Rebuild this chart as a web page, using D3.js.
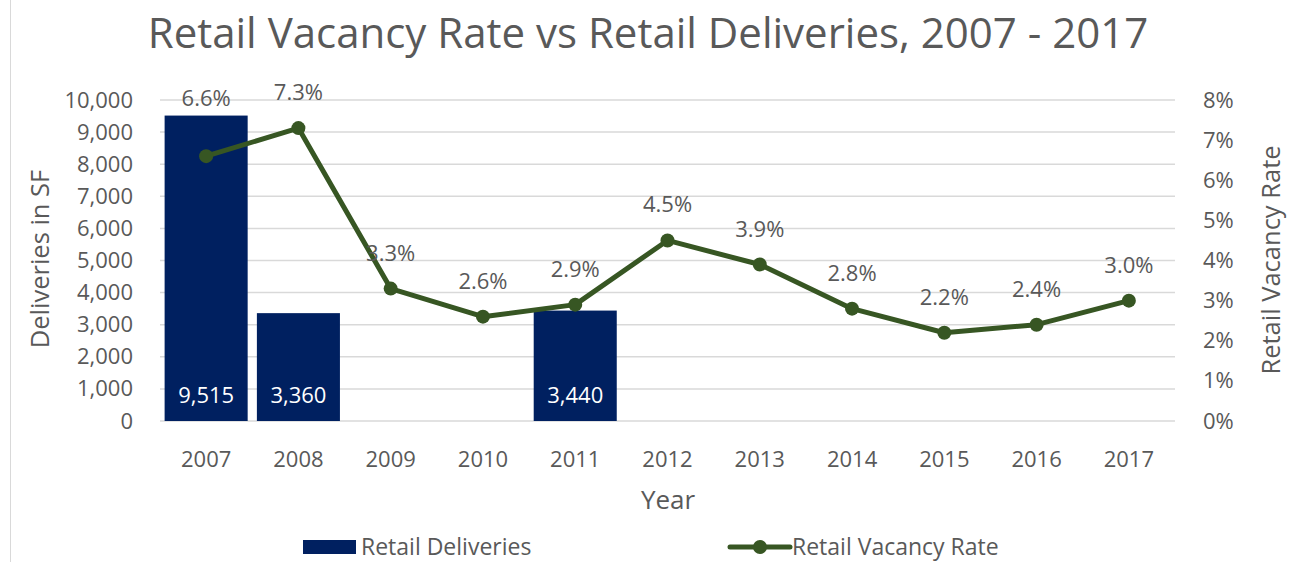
<!DOCTYPE html>
<html>
<head>
<meta charset="utf-8">
<script src="https://cdn.jsdelivr.net/npm/d3@7"></script>
<style>
  body { margin: 0; background: #fff; }
  text { font-family: "Open Sans", "Noto Sans", sans-serif; fill: #595959; }
</style>
</head>
<body>
<div id="canvas"></div>
<script>
var years = ["2007", "2008", "2009", "2010", "2011", "2012", "2013", "2014", "2015", "2016", "2017"];
var deliveries = [9515, 3360, 0, 0, 3440, 0, 0, 0, 0, 0, 0];
var vacancy = [6.6, 7.3, 3.3, 2.6, 2.9, 4.5, 3.9, 2.8, 2.2, 2.4, 3.0];
var leftTicks = [0, 1000, 2000, 3000, 4000, 5000, 6000, 7000, 8000, 9000, 10000];
var rightTicks = [0, 1, 2, 3, 4, 5, 6, 7, 8];

var width = 1291,
  height = 562;
var plot = { left: 160, right: 1175, top: 100, bottom: 421 };
var barColor = "#002060",
  lineColor = "#375623";

var svg = d3
  .select("#canvas")
  .append("svg")
  .attr("width", width)
  .attr("height", height);

// frame edge on the left
svg
  .append("line")
  .attr("x1", 10.5)
  .attr("x2", 10.5)
  .attr("y1", 0)
  .attr("y2", height)
  .style("stroke", "#d9d9d9");

var x = d3
  .scaleBand()
  .domain(years)
  .range([plot.left, plot.right])
  .paddingInner(0.1)
  .paddingOuter(0.05);

var yLeft = d3
  .scaleLinear()
  .domain([0, 10000])
  .range([plot.bottom, plot.top]);

var yRight = d3
  .scaleLinear()
  .domain([0, 8])
  .range([plot.bottom, plot.top]);

// gridlines
svg
  .append("g")
  .selectAll("line")
  .data(leftTicks)
  .enter()
  .append("line")
  .attr("x1", plot.left)
  .attr("x2", plot.right)
  .attr("y1", function(d) {
    return yLeft(d);
  })
  .attr("y2", function(d) {
    return yLeft(d);
  })
  .style("stroke", "#d9d9d9")
  .style("stroke-width", 1.5);

function styleTicks(g) {
  g.select(".domain").remove();
  g.selectAll("text")
    .style("font-size", "22px")
    .style("fill", "#595959")
    .style("font-family", null);
}

// left axis
svg
  .append("g")
  .attr("transform", "translate(" + (plot.left - 27) + ",0)")
  .call(
    d3
      .axisLeft(yLeft)
      .tickValues(leftTicks)
      .tickSize(0)
      .tickPadding(0)
      .tickFormat(d3.format(","))
  )
  .call(styleTicks);

// right axis
svg
  .append("g")
  .attr("transform", "translate(" + (plot.right + 28) + ",0)")
  .call(
    d3
      .axisRight(yRight)
      .tickValues(rightTicks)
      .tickSize(0)
      .tickPadding(0)
      .tickFormat(function(d) {
        return d + "%";
      })
  )
  .call(styleTicks);

// x axis labels
svg
  .append("g")
  .attr("transform", "translate(0," + (plot.bottom + 30) + ")")
  .call(d3.axisBottom(x).tickSize(0).tickPadding(0))
  .call(styleTicks);

// bars
var barData = years.map(function(y, i) {
  return { year: y, value: deliveries[i] };
});
var shownBars = barData.filter(function(d) {
  return d.value > 0;
});

svg
  .append("g")
  .selectAll("rect")
  .data(shownBars)
  .enter()
  .append("rect")
  .attr("x", function(d) {
    return x(d.year);
  })
  .attr("width", x.bandwidth())
  .attr("y", function(d) {
    return yLeft(d.value);
  })
  .attr("height", function(d) {
    return yLeft(0) - yLeft(d.value);
  })
  .style("fill", barColor);

svg
  .append("g")
  .selectAll("text")
  .data(shownBars)
  .enter()
  .append("text")
  .attr("x", function(d) {
    return x(d.year) + x.bandwidth() / 2;
  })
  .attr("y", yLeft(0) - 18)
  .attr("text-anchor", "middle")
  .style("font-size", "22px")
  .style("fill", "#ffffff")
  .text(function(d) {
    return d3.format(",")(d.value);
  });

// vacancy line
var lineData = years.map(function(y, i) {
  return { year: y, value: vacancy[i], bar: deliveries[i] };
});

var cx = function(d) {
  return x(d.year) + x.bandwidth() / 2;
};

svg
  .append("path")
  .datum(lineData)
  .attr(
    "d",
    d3
      .line()
      .x(cx)
      .y(function(d) {
        return yRight(d.value);
      })
  )
  .style("fill", "none")
  .style("stroke", lineColor)
  .style("stroke-width", 5)
  .style("stroke-linejoin", "round");

svg
  .append("g")
  .selectAll("circle")
  .data(lineData)
  .enter()
  .append("circle")
  .attr("cx", cx)
  .attr("cy", function(d) {
    return yRight(d.value);
  })
  .attr("r", 7)
  .style("fill", lineColor);

svg
  .append("g")
  .selectAll("text")
  .data(lineData)
  .enter()
  .append("text")
  .attr("x", cx)
  .attr("y", function(d) {
    var py = yRight(d.value);
    var by = d.bar > 0 ? yLeft(d.bar) : height;
    // label sits above the bar when the point is hidden inside it
    if (py > by) return by - 10;
    return py - 28;
  })
  .attr("text-anchor", "middle")
  .style("font-size", "22px")
  .text(function(d) {
    return d.value.toFixed(1) + "%";
  });

// title
svg
  .append("text")
  .attr("x", 648)
  .attr("y", 48)
  .attr("text-anchor", "middle")
  .style("font-size", "42px")
  .text("Retail Vacancy Rate vs Retail Deliveries, 2007 - 2017");

// axis titles
svg
  .append("text")
  .attr("transform", "translate(49,259) rotate(-90)")
  .attr("text-anchor", "middle")
  .style("font-size", "25.5px")
  .text("Deliveries in SF");

svg
  .append("text")
  .attr("transform", "translate(1280,260) rotate(-90)")
  .attr("text-anchor", "middle")
  .style("font-size", "25.5px")
  .text("Retail Vacancy Rate");

svg
  .append("text")
  .attr("x", 668)
  .attr("y", 509)
  .attr("text-anchor", "middle")
  .style("font-size", "26px")
  .text("Year");

// legend
var legend = svg.append("g");
legend
  .append("rect")
  .attr("x", 303)
  .attr("y", 540)
  .attr("width", 53)
  .attr("height", 14)
  .style("fill", barColor);
legend
  .append("text")
  .attr("x", 361)
  .attr("y", 555)
  .style("font-size", "23px")
  .text("Retail Deliveries");
legend
  .append("line")
  .attr("x1", 730)
  .attr("x2", 790)
  .attr("y1", 547)
  .attr("y2", 547)
  .style("stroke", lineColor)
  .style("stroke-width", 5)
  .style("stroke-linecap", "round");
legend
  .append("circle")
  .attr("cx", 760)
  .attr("cy", 547)
  .attr("r", 7)
  .style("fill", lineColor);
legend
  .append("text")
  .attr("x", 792)
  .attr("y", 555)
  .style("font-size", "23px")
  .text("Retail Vacancy Rate");
</script>
</body>
</html>
